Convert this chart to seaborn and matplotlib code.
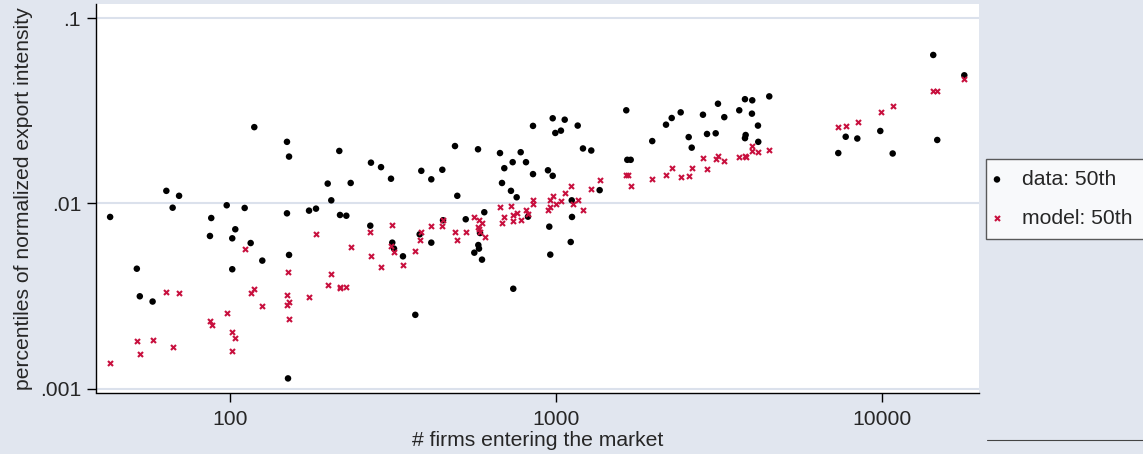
"""
Median normalized export intensity vs. number of entering firms: data vs. model.
"""
import pandas as pd
import numpy as np
import matplotlib
matplotlib.use('Agg')
import matplotlib.pyplot as plt
from matplotlib.lines import Line2D
import seaborn as sns

# Data: 50th percentile in each market
firms_data = [42.9, 51.8, 52.9, 57.9, 63.8, 66.7, 69.8, 86.8, 87.6, 97.7,
              101.6, 101.6, 103.8, 110.9, 115.7, 118.7, 125.6, 149.5, 151.7, 149.5,
              151.7, 150.6, 174.7, 183.5, 199.3, 204.4, 216.3, 217.4, 227.3, 234.4,
              269.2, 270.5, 290.4, 311.6, 314.4, 318.3, 339.0, 369.9, 381.5, 385.9,
              414.1, 414.1, 447.6, 449.8, 489.5, 497.5, 528.0, 561.0, 575.9, 577.1,
              579.9, 584.0, 592.3, 602.0, 672.5, 682.1, 693.3, 726.7, 735.5, 738.6,
              756.5, 778.3, 808.0, 819.5, 849.0, 849.0, 943.6, 952.4, 959.1, 975.7,
              975.7, 993.8, 1034, 1062, 1108, 1116, 1118, 1164, 1208, 1281,
              1359, 1640, 1652, 1692, 1970, 2171, 2260, 2408, 2548, 2603,
              2818, 2900, 3083, 3133, 3276, 3641, 3791, 3809, 3791, 3991,
              3982, 4155, 4164, 4500, 7325, 7719, 8378, 9854, 10755, 14320, 14730, 17830]
p50_data = [0.00846, 0.00445, 0.00316, 0.00296, 0.0117, 0.00949, 0.0110, 0.00668, 0.00835, 0.00978,
            0.00649, 0.00442, 0.00726, 0.00946, 0.00612, 0.0258, 0.00492, 0.0215, 0.0179, 0.00885,
            0.00528, 0.00114, 0.00915, 0.00938, 0.0128, 0.0104, 0.0192, 0.00867, 0.00859, 0.0129,
            0.00759, 0.0166, 0.0157, 0.0136, 0.00615, 0.00571, 0.00519, 0.00251, 0.00682, 0.0150,
            0.0135, 0.00615, 0.0152, 0.00812, 0.0204, 0.0110, 0.00822, 0.00543, 0.0196, 0.00597,
            0.00571, 0.00693, 0.00498, 0.00897, 0.0187, 0.0129, 0.0155, 0.0117, 0.0167, 0.00347,
            0.0108, 0.0189, 0.0167, 0.00849, 0.0262, 0.0144, 0.0151, 0.00750, 0.00530, 0.0288,
            0.0141, 0.0240, 0.0247, 0.0283, 0.00620, 0.0104, 0.00846, 0.0263, 0.0198, 0.0193,
            0.0118, 0.0318, 0.0172, 0.0172, 0.0217, 0.0266, 0.0289, 0.0310, 0.0228, 0.0200,
            0.0301, 0.0237, 0.0239, 0.0345, 0.0292, 0.0318, 0.0365, 0.0234, 0.0225, 0.0360,
            0.0305, 0.0263, 0.0215, 0.0378, 0.0187, 0.0229, 0.0224, 0.0246, 0.0186, 0.0632, 0.0220, 0.0491]

# Model: 50th percentile in each market
firms_model = [42.9, 51.9, 52.9, 57.9, 63.8, 66.9, 69.9, 86.8, 87.9, 97.7,
               101.6, 101.6, 103.8, 110.9, 115.7, 118.7, 125.6, 149.5, 150.6, 151.7,
               149.5, 151.7, 174.7, 183.9, 199.7, 204.4, 217.4, 217.4, 227.3, 234.4,
               269.2, 270.5, 290.4, 311.6, 314.4, 318.3, 339.0, 369.9, 382.4, 385.9,
               414.1, 447.6, 449.8, 489.5, 497.5, 528.0, 561.0, 579.9, 592.3, 574.6,
               579.9, 585.2, 603.7, 672.5, 682.1, 693.3, 728.4, 735.5, 738.6, 758.1,
               778.3, 809.7, 821.4, 849.0, 849.0, 943.6, 959.1, 959.1, 975.7, 996.5,
               1037, 1062, 1110, 1124, 1166, 1211, 1281, 1362, 1640, 1660,
               1692, 1970, 2171, 2260, 2408, 2548, 2603, 2818, 2900, 3083,
               3133, 3276, 3641, 3791, 3817, 3991, 3991, 4164, 4500, 7325,
               7719, 8401, 9881, 10755, 14320, 14730, 17830]
p50_model = [0.00138, 0.00181, 0.00154, 0.00183, 0.00335, 0.00169, 0.00328, 0.00232, 0.00221, 0.00258,
             0.00203, 0.00161, 0.00189, 0.00566, 0.00330, 0.00347, 0.00280, 0.00320, 0.00429, 0.00296,
             0.00283, 0.00239, 0.00312, 0.00687, 0.00365, 0.00417, 0.00356, 0.00349, 0.00354, 0.00581,
             0.00699, 0.00519, 0.00453, 0.00592, 0.00766, 0.00546, 0.00464, 0.00555, 0.00633, 0.00702,
             0.00759, 0.00754, 0.00812, 0.00699, 0.00636, 0.00699, 0.00849, 0.00815, 0.00785, 0.00750,
             0.00726, 0.00705, 0.00662, 0.00957, 0.00788, 0.00846, 0.00973, 0.00870, 0.00802, 0.00892,
             0.00815, 0.00919, 0.00878, 0.0104, 0.00990, 0.00919, 0.00961, 0.0104, 0.0110, 0.00990,
             0.0103, 0.0114, 0.0125, 0.00990, 0.0104, 0.00919, 0.0119, 0.0134, 0.0143, 0.0143,
             0.0125, 0.0135, 0.0142, 0.0156, 0.0139, 0.0141, 0.0156, 0.0175, 0.0153, 0.0174,
             0.0181, 0.0170, 0.0178, 0.0181, 0.0179, 0.0204, 0.0193, 0.0189, 0.0194, 0.0259,
             0.0263, 0.0275, 0.0311, 0.0334, 0.0403, 0.0403, 0.0469]

x_ticks = [100, 1000, 10000]
x_ticklabels = ['100', '1000', '10000']
y_ticks = [0.001, 0.01, 0.1]
y_ticklabels = ['.001', '.01', '.1']
series_labels = ['data: 50th', 'model: 50th']

BG = '#e1e6ef'
GRID = '#dbe1ec'
RED = '#c8103e'

sns.set_theme(style='white')
plt.rcParams['font.family'] = ['Liberation Sans', 'DejaVu Sans']
FS = 15.2

df_data = pd.DataFrame({'firms': firms_data, 'p50': p50_data})
df_model = pd.DataFrame({'firms': firms_model, 'p50': p50_model})

fig = plt.figure(figsize=(11.43, 4.54), dpi=100, facecolor=BG)
ax = fig.add_axes([96 / 1143, 1 - 392.5 / 454, 883 / 1143, 388.5 / 454])
ax.set_facecolor('white')

sns.scatterplot(data=df_data, x='firms', y='p50', ax=ax, color='black', marker='o',
                s=22, edgecolor='none', linewidth=0, label=series_labels[0], zorder=3)
sns.scatterplot(data=df_model, x='firms', y='p50', ax=ax, color=RED, marker='x',
                s=13, linewidth=1.5, label=series_labels[1], zorder=4)

ax.set_xscale('log')
ax.set_yscale('log')
ax.set_xlim(38.83, 19780)
ax.set_ylim(0.000957, 0.119)

ax.set_xticks(x_ticks)
ax.set_xticklabels(x_ticklabels)
ax.set_yticks(y_ticks)
ax.set_yticklabels(y_ticklabels)
ax.minorticks_off()
ax.tick_params(axis='x', which='major', length=6.5, width=1, color='black',
               labelsize=FS, pad=5.8, bottom=True)
ax.tick_params(axis='y', which='major', length=6.5, width=1, color='black',
               labelsize=FS, pad=4.3, left=True)

ax.yaxis.grid(True, color=GRID, linewidth=1.5)
ax.xaxis.grid(False)
ax.set_axisbelow(True)

for side in ['top', 'right']:
    ax.spines[side].set_visible(False)
for side in ['left', 'bottom']:
    ax.spines[side].set_color('black')
    ax.spines[side].set_linewidth(1)

ax.set_xlabel('# firms entering the market', fontsize=FS, labelpad=1.5)
ax.set_ylabel('percentiles of normalized export intensity', fontsize=FS, labelpad=5)

# legend sits off to the right, clipped by the figure edge
handles, labels = ax.get_legend_handles_labels()
ax.get_legend().remove()
leg = fig.legend(handles, labels, loc='upper left', mode='expand',
                 bbox_to_anchor=(986 / 1143, 1 - 238 / 454, 220 / 1143, 79 / 454),
                 fontsize=FS, frameon=True, fancybox=False, borderpad=0.52,
                 labelspacing=0.94, handlelength=0.0, handletextpad=1.2,
                 borderaxespad=0)
leg.get_frame().set_edgecolor('#333333')
leg.get_frame().set_linewidth(1)
leg.get_frame().set_facecolor('white')

fig.add_artist(Line2D([987 / 1143, 1.0], [1 - 440 / 454, 1 - 440 / 454],
                      color='#444444', linewidth=0.8))

fig.savefig('out.png', dpi=100, facecolor=BG)
